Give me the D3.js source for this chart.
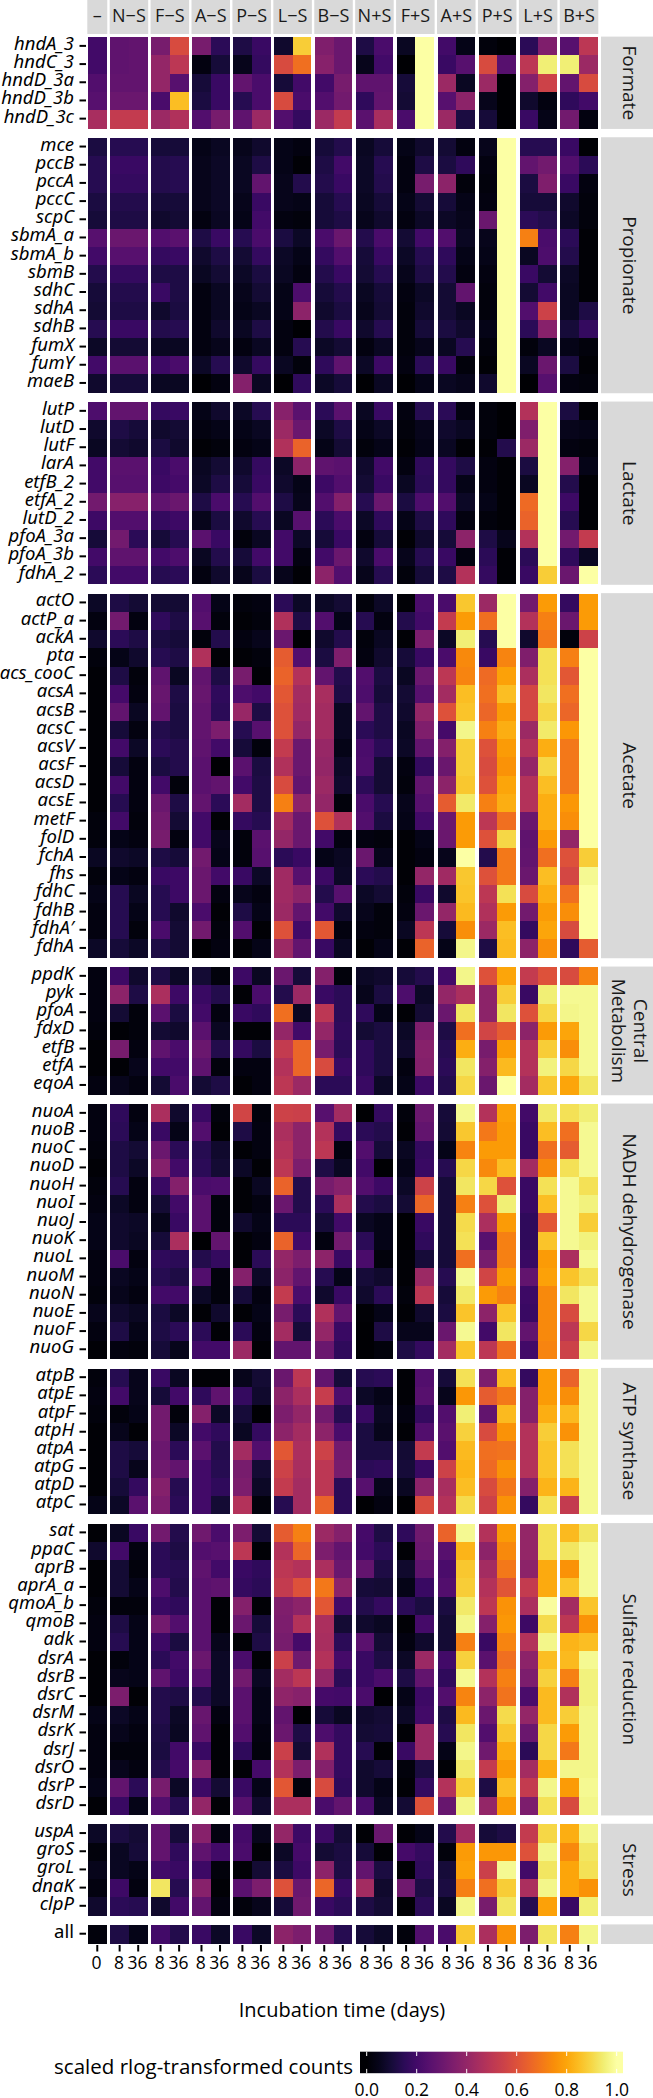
<!DOCTYPE html>
<html><head><meta charset="utf-8">
<script src="https://cdn.jsdelivr.net/npm/d3@7"></script>
<style>html,body{margin:0;padding:0;background:#fff}svg{display:block}text{font-family:"Open Sans",sans-serif;fill:#000}.gene{font-family:"Noto Sans",sans-serif}</style>
</head><body><div id="c"></div>
<script>
// Values are in percent of the scaled rlog range. Column order follows treatments/times.
const treatments=["–","N−S","F−S","A−S","P−S","L−S","B−S","N+S","F+S","A+S","P+S","L+S","B+S"];
const timesFirst=["0"], timesOther=["8","36"];
const legendTicks=[0,.2,.4,.6,.8,1];
const groupNames=["Formate","Propionate","Lactate","Acetate","Central\nMetabolism","NADH dehydrogenase","ATP synthase","Sulfate reduction","Stress",""];
const formateGenes=["hndA_3","hndC_3","hndD_3a","hndD_3b","hndD_3c"];
const formateValues=[
[20,27,28,33,58,33,15,12,18,8,88,35,30,12,22,6,100,20,4,2,0,15,35,25,50],
[20,27,28,40,50,3,10,5,17,58,68,37,30,5,20,0,100,18,25,58,25,50,95,95,42],
[24,28,28,40,25,10,18,28,22,10,20,20,33,27,27,10,100,42,6,42,0,36,55,28,58],
[25,30,30,22,85,11,18,14,22,58,22,24,32,16,28,9,100,25,38,5,0,8,3,16,20],
[45,52,52,42,47,24,33,27,42,24,17,42,52,26,45,22,100,42,11,10,0,18,4,32,3]];
const propionateGenes=["mce","pccB","pccA","pccC","scpC","sbmA_a","sbmA_b","sbmB","sdhC","sdhA","sdhB","fumX","fumY","maeB"];
const propionateValues=[
[11,14,14,10,10,4,6,5,8,4,3,10,13,6,10,4,8,9,3,5,100,14,14,18,1],
[14,18,18,13,14,5,7,6,12,4,1,12,20,7,14,3,12,11,16,3,100,28,32,24,15],
[14,17,17,13,14,5,7,6,28,5,13,13,18,7,13,3,33,38,2,2,100,11,35,18,3],
[11,13,13,10,10,5,7,5,18,5,4,10,14,6,10,4,9,10,4,3,100,10,10,8,2],
[10,12,12,8,9,3,6,4,20,3,2,10,12,5,8,3,7,7,5,30,100,15,13,7,2],
[25,30,30,24,26,12,18,14,22,11,7,22,30,13,22,9,20,24,6,5,100,72,22,15,1],
[20,25,25,17,18,8,12,9,17,7,4,17,24,10,18,7,14,16,4,4,100,6,23,13,1],
[13,17,17,12,12,6,9,7,11,6,3,13,18,9,14,5,12,13,3,3,100,18,9,7,1],
[10,13,13,18,12,3,6,5,9,4,23,10,13,6,10,3,7,9,28,2,100,9,20,6,1],
[9,12,12,8,11,3,6,4,6,4,38,8,11,5,9,2,8,9,6,2,100,24,55,6,12],
[14,18,18,13,14,3,8,6,12,3,0,13,18,8,14,2,10,11,8,4,100,15,37,10,17],
[7,9,9,6,6,3,5,3,6,3,14,7,9,3,6,2,5,6,14,2,100,2,6,4,2],
[20,26,26,19,22,7,14,8,17,6,2,16,27,7,19,3,15,18,2,1,100,6,30,11,1],
[8,10,10,6,6,0,3,36,6,0,16,7,10,0,6,0,4,6,5,8,100,0,25,3,2]];
const lactateGenes=["lutP","lutD","lutF","larA","etfB_2","etfA_2","lutD_2","pfoA_3a","pfoA_3b","fdhA_2"];
const lactateValues=[
[23,28,28,17,18,4,8,7,14,37,26,15,26,6,18,3,14,15,3,2,0,48,100,11,1],
[8,12,10,8,9,3,4,4,6,42,30,7,12,4,7,2,5,8,6,2,0,35,100,5,4],
[6,9,8,11,8,1,2,3,4,47,65,4,9,2,4,1,4,6,1,1,13,42,100,3,2],
[20,26,26,18,22,6,9,8,17,7,38,27,26,8,20,3,16,17,12,3,1,11,100,36,4],
[20,25,25,19,21,7,12,10,18,8,4,19,24,9,18,6,15,17,4,3,1,6,100,13,1],
[32,37,37,27,30,12,22,14,24,12,5,24,36,14,30,11,23,24,7,4,1,67,100,19,1],
[19,24,24,17,19,5,11,8,14,6,25,15,22,7,16,4,12,16,3,2,1,65,100,14,1],
[10,32,15,10,14,26,18,2,6,20,7,10,18,3,10,1,8,10,38,12,5,48,100,32,52],
[20,27,27,20,23,6,13,10,20,20,3,20,30,8,22,5,14,18,3,15,1,15,100,16,6],
[15,20,20,14,15,3,8,5,11,5,1,38,24,5,14,2,10,12,48,17,1,18,88,30,100]];
const acetateGenes=["actO","actP_a","ackA","pta","acs_cooC","acsA","acsB","acsC","acsV","acsF","acsD","acsE","metF","folD","fchA","fhs","fdhC","fdhB","fdhA′","fdhA"];
const acetateValues=[
[7,12,9,9,9,24,4,2,3,15,7,7,9,2,7,1,22,22,87,42,100,32,78,17,78],
[3,32,3,16,12,25,2,1,2,47,12,24,4,14,3,13,20,52,78,68,100,48,72,30,78],
[8,15,12,11,10,2,13,3,5,30,0,8,13,2,6,1,34,7,95,14,100,8,70,2,55],
[2,4,8,14,12,47,1,1,2,63,24,11,35,3,8,10,18,22,74,18,73,35,92,72,100],
[1,12,2,27,6,28,12,33,1,65,48,28,13,24,11,6,30,50,73,67,79,46,92,62,100],
[1,21,3,29,12,29,16,23,20,62,44,45,12,23,10,9,25,44,85,68,85,57,93,68,100],
[1,28,6,28,11,28,15,41,12,60,43,44,6,28,12,8,40,60,86,66,78,57,90,66,100],
[1,10,3,13,11,28,34,14,25,60,40,44,6,15,12,6,35,21,97,72,82,42,94,77,100],
[1,20,7,15,13,27,20,10,2,52,30,41,4,22,15,7,28,36,88,60,78,48,82,70,100],
[1,10,3,11,13,26,0,26,11,47,30,40,7,23,9,3,17,30,88,58,76,40,90,70,100],
[1,20,3,20,2,26,28,20,12,58,28,42,8,15,9,2,28,38,87,60,80,48,85,70,100],
[1,14,3,30,12,28,15,44,12,72,38,40,2,22,14,5,25,63,94,72,82,48,82,77,100],
[2,20,2,32,9,20,1,17,14,44,30,60,47,24,11,4,20,30,78,50,68,30,82,75,100],
[2,4,3,33,3,20,5,2,26,40,30,20,3,3,2,1,4,30,78,60,90,27,78,40,100],
[6,8,7,12,10,32,4,2,25,15,18,4,6,30,5,1,3,5,100,13,70,28,68,60,88],
[2,4,3,18,19,30,20,18,7,43,25,19,7,15,13,1,40,43,87,60,70,30,85,57,98],
[4,14,6,14,19,30,3,5,3,43,38,13,25,7,9,2,18,8,86,50,92,58,82,68,100],
[3,14,4,14,8,22,1,12,4,42,28,20,8,5,2,3,30,40,84,47,78,32,78,75,100],
[3,14,2,22,9,32,2,24,1,60,20,62,3,3,2,6,50,10,75,42,85,17,80,58,100],
[7,10,7,12,9,0,3,1,4,42,28,18,6,1,4,1,65,4,97,12,84,38,75,16,63]];
const centralGenes=["ppdK","pyk","pfoA","fdxD","etfB","etfA","eqoA"];
const centralValues=[
[3,19,8,12,7,9,2,19,6,30,10,36,2,7,8,10,13,20,97,60,80,52,60,58,73],
[3,38,12,46,19,18,13,1,22,13,42,18,15,5,11,23,7,40,46,38,88,18,95,98,98],
[3,9,2,26,11,20,3,18,16,68,6,50,15,16,4,1,9,30,93,38,93,60,90,97,98],
[2,1,2,9,8,26,6,1,1,40,20,40,16,9,11,7,35,12,68,56,63,38,78,80,98],
[1,33,3,27,22,30,13,17,11,52,66,33,15,16,11,8,37,14,82,33,78,48,88,75,98],
[1,1,5,20,20,27,2,3,3,48,66,58,18,16,11,3,36,15,93,36,84,48,96,90,98],
[3,5,3,9,22,9,12,1,3,50,42,15,15,18,7,4,19,13,90,30,100,44,87,80,93]];
const nadhGenes=["nuoA","nuoB","nuoC","nuoD","nuoH","nuoI","nuoJ","nuoK","nuoL","nuoM","nuoN","nuoE","nuoF","nuoG"];
const nadhValues=[
[3,16,3,46,8,18,2,56,2,55,54,25,44,0,17,2,30,10,98,48,79,20,94,92,95],
[3,15,4,18,4,24,1,12,3,46,38,48,17,15,13,1,28,9,87,70,78,18,85,68,98],
[2,12,9,30,15,14,8,1,3,48,38,50,3,24,10,6,17,4,73,78,78,18,68,63,98],
[1,12,7,36,20,15,9,7,1,50,34,12,6,20,0,4,18,14,90,74,85,44,74,92,98],
[2,14,3,18,36,22,23,1,6,65,13,33,37,24,19,7,55,10,93,90,60,18,92,98,92],
[3,7,3,9,20,26,2,1,3,30,13,15,46,13,11,9,66,10,72,60,95,18,85,98,96],
[4,8,7,5,18,26,2,8,4,15,15,10,20,6,4,0,18,10,91,46,78,16,62,98,88],
[4,8,6,10,46,0,28,1,3,65,20,3,32,15,4,0,16,10,92,25,72,16,86,98,96],
[3,22,3,16,15,13,17,1,15,40,34,38,18,22,2,1,10,10,68,33,72,18,78,46,98],
[3,6,4,14,12,24,2,36,7,38,28,14,4,10,8,1,42,14,98,56,78,28,79,86,92],
[2,5,3,20,20,7,2,10,3,52,22,8,18,8,15,2,50,10,94,78,73,19,74,93,98],
[5,8,6,11,7,1,8,1,4,33,15,47,28,1,4,1,8,11,86,38,86,18,74,58,98],
[3,12,4,12,15,15,1,15,3,44,10,40,18,0,12,5,5,30,98,20,93,28,74,50,90],
[1,3,2,10,5,20,20,42,1,28,28,30,16,0,2,12,17,44,86,50,68,20,73,55,97]];
const atpGenes=["atpB","atpE","atpF","atpH","atpA","atpG","atpD","atpC"];
const atpValues=[
[2,14,5,18,6,1,1,5,9,30,50,28,10,14,15,1,24,10,92,34,84,17,78,65,98],
[3,20,5,10,20,16,27,17,8,38,46,53,23,7,4,1,25,5,77,63,70,36,78,75,98],
[2,2,4,32,2,36,7,10,0,34,40,32,14,18,6,3,17,24,95,28,84,36,82,84,98],
[1,5,1,32,7,20,16,6,17,38,44,38,22,11,5,1,24,26,89,58,76,48,88,76,98],
[1,12,10,30,15,26,13,44,24,62,46,55,32,11,11,9,52,24,84,68,69,48,86,92,98],
[1,12,5,31,28,20,14,33,9,55,45,50,33,15,16,10,18,55,83,67,76,48,86,92,98],
[1,10,17,36,14,20,16,34,7,52,44,50,15,25,5,6,38,45,85,58,70,36,83,83,98],
[4,7,26,34,15,20,9,48,2,14,44,65,15,0,3,0,58,48,91,55,76,17,92,52,98]];
const sulfateGenes=["sat","ppaC","aprB","aprA_a","qmoA_b","qmoB","adk","dsrA","dsrB","dsrC","dsrM","dsrK","dsrJ","dsrO","dsrP","dsrD"];
const sulfateValues=[
[1,6,18,32,13,31,22,34,9,63,72,42,36,21,12,16,31,65,98,48,78,40,92,84,93],
[8,20,3,15,12,24,25,50,1,48,66,34,28,20,15,1,30,25,83,38,74,40,92,93,98],
[1,9,2,15,14,27,20,18,16,50,48,46,30,28,12,8,27,22,87,44,70,38,81,76,98],
[1,9,4,23,13,26,27,17,15,52,60,70,38,10,9,4,18,24,88,48,61,52,81,86,98],
[2,2,2,18,16,26,1,36,1,35,38,62,20,13,17,15,11,11,94,50,76,46,99,44,86],
[3,12,4,32,24,26,1,30,10,34,48,46,9,8,6,1,21,9,97,36,77,19,91,50,76],
[3,14,4,19,11,26,5,1,12,33,21,45,15,26,9,3,8,9,72,18,73,48,97,83,85],
[1,2,4,15,20,30,7,22,1,54,31,48,21,18,12,7,42,20,89,26,68,38,85,84,98],
[1,5,4,27,19,25,7,32,6,44,50,40,15,18,22,12,28,16,98,48,72,34,89,72,96],
[1,34,1,13,12,13,7,26,4,39,37,21,20,22,0,4,19,24,73,38,69,22,84,47,96],
[4,7,4,13,7,29,3,26,4,28,0,10,6,8,9,7,20,12,84,30,91,40,84,88,97],
[3,5,3,12,6,27,1,24,3,30,12,23,17,9,10,1,42,14,93,24,87,30,90,78,97],
[3,2,2,11,20,18,1,16,2,54,9,47,17,14,1,18,42,4,97,31,81,15,90,70,97],
[3,5,3,13,21,36,1,1,21,48,34,36,17,8,10,2,11,1,94,52,78,44,82,97,97],
[4,28,15,33,7,19,9,18,4,62,2,58,16,8,4,1,17,48,88,12,85,52,97,78,98],
[1,18,4,24,14,40,1,25,8,46,46,22,28,22,6,9,60,29,97,40,78,34,92,58,97]];
const stressGenes=["uspA","groS","groL","dnaK","clpP"];
const stressValues=[
[7,11,9,28,10,37,3,21,5,40,19,19,9,1,30,1,4,13,43,10,12,52,90,82,97],
[2,6,10,28,16,27,20,22,1,7,21,9,11,10,1,21,17,2,78,77,77,60,97,74,93],
[5,6,4,20,18,19,2,1,9,11,19,38,12,28,11,0,16,10,79,54,98,20,93,80,92],
[3,19,3,93,14,37,1,26,34,60,30,66,18,44,8,31,12,11,72,68,88,46,97,80,76],
[8,15,14,8,20,28,3,2,5,10,31,18,15,12,9,0,15,6,97,33,93,14,79,18,95]];
const allGenes=["all"];
const allValues=[[2,12,4,20,13,18,7,18,7,38,34,30,14,10,7,2,24,22,87,46,76,34,93,72,97]];

const geneLists=[formateGenes,propionateGenes,lactateGenes,acetateGenes,centralGenes,nadhGenes,atpGenes,sulfateGenes,stressGenes,allGenes];
const valueLists=[formateValues,propionateValues,lactateValues,acetateValues,centralValues,nadhValues,atpValues,sulfateValues,stressValues,allValues];

const W=653,H=2098;
const svg=d3.select("#c").append("svg").attr("width",W).attr("height",H);
const color=d3.scaleSequential(d3.interpolateInferno).domain([0,100]);

// columns across faceted treatments
const colGap=3.8/18.55, rowGap=9.72/18.18;
const columns=[];
treatments.forEach((t,p)=>(p===0?timesFirst:timesOther).forEach(time=>columns.push({p,time,u:columns.length+p*colGap})));
const totalU=columns.length+(treatments.length-1)*colGap;
const x=d3.scaleLinear().domain([0,totalU]).range([88,597.6]);
const unitW=x(1)-x(0);

const rows=[];
let g0=0;
const groupInfo=geneLists.map((genes,g)=>{
  const start=g0+g*rowGap;
  genes.forEach((gene,i)=>rows.push({g,gene,i,u:start+i}));
  g0+=genes.length;
  return {start,n:genes.length};
});
const totalRows=g0+(geneLists.length-1)*rowGap;
const y=d3.scaleLinear().domain([0,totalRows]).range([37.3,1943.3]);
const unitH=y(1)-y(0);

// top strips
const panels=treatments.map((t,p)=>{const cs=columns.filter(c=>c.p===p);return {t,x0:x(cs[0].u),x1:x(cs[cs.length-1].u+1)};});
svg.selectAll("rect.strip").data(panels).join("rect").attr("x",d=>d.x0-.7).attr("width",d=>d.x1-d.x0+1.4)
  .attr("y",0).attr("height",34).attr("fill","#d9d9d9");
svg.selectAll("text.strip").data(panels).join("text").attr("x",d=>(d.x0+d.x1)/2).attr("y",21.7)
  .attr("text-anchor","middle").attr("font-size",18).style("fill","#1a1a1a").text(d=>d.t);

// right strips
const grp=svg.append("g");
groupInfo.forEach((g,i)=>{
  const y0=y(g.start),y1=y(g.start+g.n);
  grp.append("rect").attr("x",601).attr("width",52).attr("y",y0-.7).attr("height",y1-y0+1.4).attr("fill","#d9d9d9");
  const lines=groupNames[i].split("\n");
  const t=grp.append("text").attr("transform",`translate(630,${(y0+y1)/2}) rotate(90)`).attr("text-anchor","middle")
    .attr("font-size",19).style("fill","#1a1a1a");
  lines.forEach((l,k)=>t.append("tspan").attr("x",0).attr("y",(k-(lines.length-1)/2)*22+7).text(l));
});

// cells
const cells=[];
rows.forEach(r=>columns.forEach((c,ci)=>cells.push({r,c,v:valueLists[r.g][r.i][ci]})));
svg.append("g").attr("shape-rendering","crispEdges").selectAll("rect").data(cells).join("rect")
  .attr("x",d=>x(d.c.u)).attr("y",d=>y(d.r.u)).attr("width",unitW+.3).attr("height",unitH+.3).attr("fill",d=>color(d.v));

// y axis: ticks + italic labels
svg.append("g").selectAll("line").data(rows).join("line").attr("x1",79.5).attr("x2",86).attr("y1",d=>y(d.u)+unitH/2-.5).attr("y2",d=>y(d.u)+unitH/2-.5)
  .attr("stroke","#000").attr("stroke-width",2);
svg.append("g").selectAll("text").data(rows).join("text").attr("class","gene").attr("x",74).attr("y",d=>y(d.u)+unitH/2+3.5)
  .attr("text-anchor","end").attr("font-size",18.5)
  .attr("font-style",d=>d.gene==="all"?"normal":"italic").text(d=>d.gene);

// x axis
svg.append("g").selectAll("line").data(columns).join("line").attr("x1",d=>x(d.u+.5)).attr("x2",d=>x(d.u+.5)).attr("y1",1945).attr("y2",1951.5)
  .attr("stroke","#000").attr("stroke-width",2);
svg.append("g").selectAll("text").data(columns).join("text").attr("x",d=>x(d.u+.5)-.7).attr("y",1969.3)
  .attr("text-anchor","middle").attr("font-size",17.5).text(d=>d.time);
svg.append("text").attr("x",342).attr("y",2017.3).attr("text-anchor","middle").attr("font-size",20).text("Incubation time (days)");

// legend
const lx=d3.scaleLinear().domain([0,1]).range([366.7,616.7]);
const defs=svg.append("defs");
const grad=defs.append("linearGradient").attr("id","lg");
d3.range(0,21).forEach(i=>grad.append("stop").attr("offset",(lx(i/20)-360)/263).attr("stop-color",color(i*5)));
svg.append("rect").attr("x",360).attr("y",2051.7).attr("width",263).attr("height",21.5).attr("fill","url(#lg)");
const tickG=svg.append("g").attr("stroke","#fff").attr("stroke-width",1);
tickG.selectAll("line.a").data(legendTicks).join("line").attr("x1",d=>lx(d)).attr("x2",d=>lx(d)).attr("y1",2051.7).attr("y2",2056);
tickG.selectAll("line.b").data(legendTicks).join("line").attr("x1",d=>lx(d)).attr("x2",d=>lx(d)).attr("y1",2068.9).attr("y2",2073.2);
svg.append("g").selectAll("text").data(legendTicks).join("text").attr("x",d=>lx(d)).attr("y",2096)
  .attr("text-anchor","middle").attr("font-size",17.5).text(d=>d3.format(".1f")(d));
svg.append("text").attr("x",353).attr("y",2074).attr("text-anchor","end").attr("font-size",20.5).text("scaled rlog-transformed counts");
</script></body></html>
